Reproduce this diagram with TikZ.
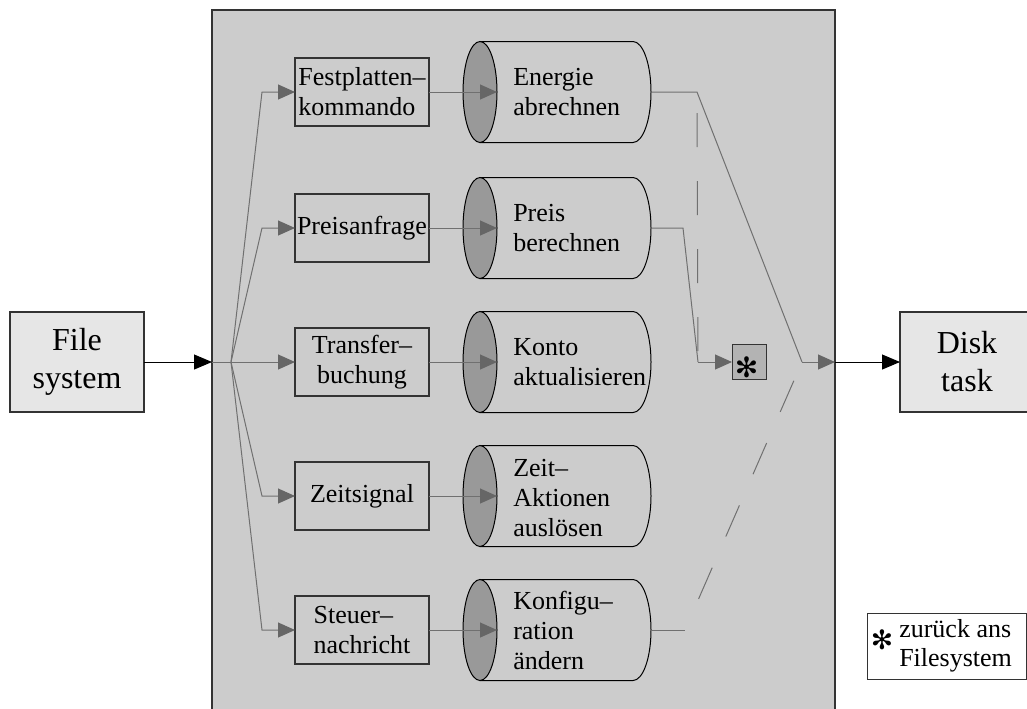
\documentclass[tikz,border=0pt]{standalone}
\usepackage{fontspec}
\setmainfont{Liberation Serif}
\newfontfamily\symfont{DejaVu Sans}
\usetikzlibrary{arrows.meta,shapes.geometric}

\definecolor{panel}{HTML}{CCCCCC}
\definecolor{light}{HTML}{E6E6E6}
\definecolor{capgray}{HTML}{999999}
\definecolor{stargray}{HTML}{B3B3B3}
\definecolor{wire}{HTML}{707070}
\definecolor{tipgray}{HTML}{666666}
\definecolor{edge}{HTML}{333333}

\tikzset{
  conn/.style={draw=wire,line width=0.75pt},
  gtip/.style={-{Triangle[length=12.75pt,width=11.25pt,color=tipgray]}},
  btip/.style={-{Triangle[length=13.5pt,width=11.25pt,color=black]}},
  taskbox/.style={draw=edge,line width=0.9pt,fill=light,minimum width=100.5pt,
    minimum height=75pt,inner sep=0pt,outer sep=0pt,align=center,
    font=\fontsize{24}{28.5}\selectfont},
  stepbox/.style={draw=edge,line width=0.9pt,fill=panel,minimum width=100.5pt,
    minimum height=51pt,inner sep=0pt,outer sep=0pt,align=left,
    font=\fontsize{19.5}{22.5}\selectfont},
  capnode/.style={ellipse,draw=black,line width=0.75pt,fill=capgray,
    minimum width=25.5pt,minimum height=75.75pt,inner sep=0pt,outer sep=0pt},
  cyltext/.style={anchor=west,align=left,inner sep=0pt,
    font=\fontsize{19.5}{22.5}\selectfont},
  cylbody/.style={draw=black,line width=0.75pt,fill=panel},
  longdash/.style={dash pattern=on 25.5pt off 25.5pt},
}

% body of a cylinder whose axis lies at height #1
\newcommand\cylbody[1]{%
  \path[cylbody] (480,{#1-50.5}) -- (633,{#1-50.5})
    arc[start angle=-90,end angle=90,x radius=18,y radius=50.5]
    -- (480,{#1+50.5}) -- cycle;}

\begin{document}
\begin{tikzpicture}[x=0.75pt,y=-0.75pt]
\useasboundingbox (0,0) rectangle (1027,708);
\fill[white] (0,0) rectangle (1027,708);

% shaded panel
\node[draw=edge,line width=1.1pt,fill=panel,minimum width=467.25pt,
  minimum height=528pt,inner sep=0pt,outer sep=0pt] (frame) at (523.5,362) {};

% outer tasks
\node[taskbox] (fs) at (77,362) {File\\system};
\node[taskbox] (dt) at (967,362) {Disk\\task};

% message types
\node[stepbox] (b1) at (362,92)  {Festplatten--\\kommando};
\node[stepbox] (b2) at (362,228) {Preisanfrage};
\node[stepbox,align=center] (b3) at (362,362) {Transfer--\\buchung};
\node[stepbox,align=center] (b4) at (362,496) {Zeitsignal};
\node[stepbox] (b5) at (362,630) {Steuer--\\nachricht};

% handler cylinders
\foreach \y [count=\i] in {92,228,362,496,630}{
  \cylbody{\y}
  \node[capnode] (cap\i) at (480,\y) {};
  \coordinate (o\i) at (651,\y);
}
\node[cyltext] (t1) at (513,92)  {Energie\\abrechnen};
\node[cyltext] (t2) at (513,228) {Preis\\berechnen};
\node[cyltext] (t3) at (513,362) {Konto\\aktualisieren};
\node[cyltext] (t4) at (513,498) {Zeit--\\Aktionen\\auslösen};
\node[cyltext] (t5) at (513,630) {Konfigu--\\ration\\ändern};

% return to file system marker
\node[draw=edge,line width=0.75pt,fill=stargray,minimum width=25.5pt,
  minimum height=26.25pt,inner sep=0pt,outer sep=0pt] (star) at (749,362) {};
\node[inner sep=0pt] (starmark) at (746.5,367)
  {\symfont\fontsize{21}{21}\selectfont ✻};

% legend
\node[draw=edge,line width=0.75pt,fill=white,minimum width=119.25pt,
  minimum height=49.5pt,inner sep=0pt,outer sep=0pt] (legend) at (946.5,646) {};
\node[inner sep=0pt] (lstar) at (882,640) {\symfont\fontsize{20}{20}\selectfont ✻};
\node[anchor=west,align=left,inner sep=0pt,
  font=\fontsize{19.5}{22}\selectfont] (ltext) at (899,646) {zurück ans\\Filesystem};

% input fan
\coordinate (fan) at (231,362);
\draw[line width=0.75pt,btip] (fs.east) -- (fs.east -| frame.west);
\draw[conn] (fs.east -| frame.west) -- (fan);
\foreach \y [count=\i] in {92,228,362,496,630}{
  \draw[conn,gtip] (fan) -- (262,\y) -- (b\i.west);
  \draw[conn,gtip] (b\i.east) -- (cap\i.east);
}

% outputs
\coordinate (join) at (802,362);
\coordinate (k1) at (697,92);
\coordinate (k2) at (683,228);
\coordinate (k5) at (685,630);
\coordinate (m2) at (698,362);
\draw[conn] (o1) -- (k1) -- (join);
\draw[conn,gtip] (join) -- (join -| frame.east);
\draw[line width=0.75pt,btip] (join -| frame.east) -- (dt.west);
\draw[conn,longdash,dash phase=35.25pt] (k1) -- (m2);
\draw[conn] (o2) -- (k2) -- (m2);
\draw[conn,gtip] (m2) -- (star.west);
\draw[conn] (o5) -- (k5);
\draw[conn,longdash,dash phase=25.5pt] (k5) -- (join);
\end{tikzpicture}
\end{document}
